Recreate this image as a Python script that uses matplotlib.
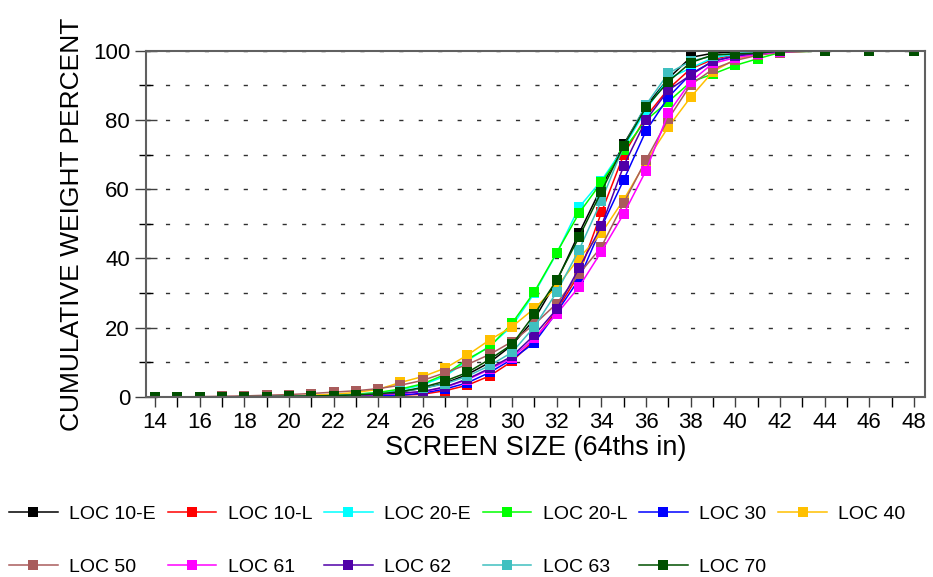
import matplotlib
matplotlib.use("Agg")
import matplotlib.pyplot as plt
from matplotlib.ticker import MultipleLocator

plt.rcParams['font.family'] = ['Liberation Sans', 'DejaVu Sans']

# Sieb-Daten (Kumulativer Gewichtsanteil in %)
screen_size = [14, 15, 16, 17, 18, 19, 20, 21, 22, 23, 24, 25, 26, 27, 28, 29, 30,
               31, 32, 33, 34, 35, 36, 37, 38, 39, 40, 41, 42, 44, 46, 48]

loc_10e = [0, 0, 0, 0, 0.1, 0.1, 0.2, 0.3, 0.4, 0.6, 0.9, 1.5, 2.5, 4.0, 6.5, 10.0, 15.0,
           22.5, 33.5, 47.3, 60.5, 73.0, 84.0, 92.0, 98.1, 99.3, 99.7, 99.9, 100, 100, 100, 100]
loc_10l = [0, 0, 0, 0, 0, 0, 0.1, 0.1, 0.2, 0.3, 0.4, 0.5, 0.8, 1.8, 3.4, 6.1, 10.3,
           16.5, 25.0, 35.5, 53.3, 70.0, 81.0, 89.0, 94.8, 97.5, 99.0, 99.5, 99.9, 100, 100, 100]
loc_20e = [0, 0, 0, 0, 0.1, 0.1, 0.2, 0.3, 0.5, 0.8, 1.2, 2.0, 3.5, 6.0, 10.5, 14.7, 20.5,
           30.0, 41.5, 54.8, 62.5, 72.0, 83.0, 92.0, 95.0, 98.0, 99.0, 99.5, 99.9, 100, 100, 100]
loc_20l = [0, 0, 0, 0, 0.1, 0.1, 0.2, 0.3, 0.5, 0.8, 1.3, 2.3, 3.8, 6.5, 10.9, 14.5, 21.3,
           30.4, 41.7, 53.1, 62.0, 71.4, 80.0, 85.3, 91.0, 93.3, 95.8, 97.7, 99.5, 100, 100, 100]
loc_30 = [0, 0, 0, 0, 0, 0, 0, 0.1, 0.1, 0.2, 0.3, 0.5, 1.1, 2.3, 4.1, 7.1, 10.9,
          15.7, 24.5, 34.0, 49.0, 62.7, 76.9, 86.6, 93.3, 97.0, 98.5, 99.3, 99.8, 100, 100, 100]
loc_40 = [0, 0, 0, 0, 0.1, 0.2, 0.3, 0.5, 0.8, 1.3, 2.2, 4.2, 5.9, 8.3, 12.1, 16.5, 20.3,
          25.6, 31.8, 40.1, 47.3, 57.0, 68.0, 78.0, 86.6, 94.0, 97.5, 99.0, 99.7, 100, 100, 100]
loc_50 = [0, 0, 0.1, 0.2, 0.3, 0.5, 0.7, 1.0, 1.4, 1.8, 2.4, 3.4, 4.8, 7.0, 9.4, 12.3, 16.0,
          21.0, 27.0, 35.5, 43.4, 56.0, 68.5, 80.3, 90.2, 94.7, 97.2, 98.7, 99.5, 100, 100, 100]
loc_61 = [0, 0, 0, 0, 0, 0.1, 0.1, 0.2, 0.3, 0.5, 0.7, 1.0, 1.5, 2.8, 5.0, 8.0, 11.3,
          17.0, 24.0, 31.8, 42.0, 52.9, 65.4, 82.0, 91.1, 96.4, 98.0, 99.0, 99.7, 100, 100, 100]
loc_62 = [0, 0, 0, 0, 0, 0.1, 0.1, 0.2, 0.3, 0.5, 0.8, 1.1, 1.6, 2.9, 5.2, 8.3, 11.8,
          17.9, 25.4, 37.2, 49.4, 66.8, 80.0, 88.6, 93.0, 97.0, 98.5, 99.3, 99.8, 100, 100, 100]
loc_63 = [0, 0, 0, 0, 0.1, 0.1, 0.2, 0.3, 0.4, 0.6, 1.0, 1.6, 2.5, 3.8, 6.0, 9.1, 12.9,
          20.3, 30.3, 42.5, 56.7, 72.5, 84.4, 93.5, 97.0, 98.5, 99.3, 99.7, 100, 100, 100, 100]
loc_70 = [0, 0, 0, 0, 0.1, 0.1, 0.2, 0.3, 0.4, 0.6, 0.9, 1.5, 2.8, 4.6, 7.1, 10.9, 15.2,
          23.9, 33.8, 46.2, 59.3, 72.6, 83.7, 91.1, 96.6, 98.8, 99.1, 99.3, 100, 100, 100, 100]

labels = ['LOC 10-E', 'LOC 10-L', 'LOC 20-E', 'LOC 20-L', 'LOC 30', 'LOC 40',
          'LOC 50', 'LOC 61', 'LOC 62', 'LOC 63', 'LOC 70']
series = [loc_10e, loc_10l, loc_20e, loc_20l, loc_30, loc_40,
          loc_50, loc_61, loc_62, loc_63, loc_70]
colors = ['#000000', '#ff0000', '#00ffff', '#00ff00', '#0000ff', '#ffc000',
          '#a95c5c', '#ff00ff', '#5000a8', '#40c0c0', '#005000']

fig = plt.figure(figsize=(9.33, 5.77), dpi=100)
ax = fig.add_axes([0.1565, 0.312, 0.835, 0.6])

handles = []
for vals, lab, col in zip(series, labels, colors):
    h, = ax.plot(screen_size, vals, color=col, lw=1.1, marker='s', markersize=6.5,
                 markeredgewidth=0, label=lab)
    handles.append(h)

ax.set_xlim(13.6, 48.5)
ax.set_ylim(0, 100)
ax.xaxis.set_major_locator(MultipleLocator(2))
ax.xaxis.set_minor_locator(MultipleLocator(1))
ax.yaxis.set_major_locator(MultipleLocator(20))
ax.yaxis.set_minor_locator(MultipleLocator(10))
ax.tick_params(axis='both', which='major', labelsize=16, color='#404040')
ax.tick_params(axis='x', which='both', direction='out', length=7, width=1)
ax.tick_params(axis='y', which='major', direction='inout', length=16, width=1)
ax.tick_params(axis='y', which='minor', direction='inout', length=10, width=1)
ax.grid(True, axis='y', which='both', color='#303030', lw=1, linestyle=(0, (3, 11)))
for s in ax.spines.values():
    s.set_color('#606060')
    s.set_linewidth(1.5)

ax.set_xlabel('SCREEN SIZE (64ths in)', fontsize=19.5, labelpad=2)
ax.set_ylabel('CUMULATIVE WEIGHT PERCENT', fontsize=19, labelpad=6)

# Legende zeilenweise sortieren
order = [0, 6, 1, 7, 2, 8, 3, 9, 4, 10, 5]
fig.legend([handles[i] for i in order], [labels[i] for i in order], ncol=6,
           loc='lower left', bbox_to_anchor=(-0.009, -0.028), frameon=False, fontsize=14,
           handlelength=2.5, handletextpad=0.6, columnspacing=0.6, labelspacing=1.8)

fig.savefig('out.png', dpi=100)
